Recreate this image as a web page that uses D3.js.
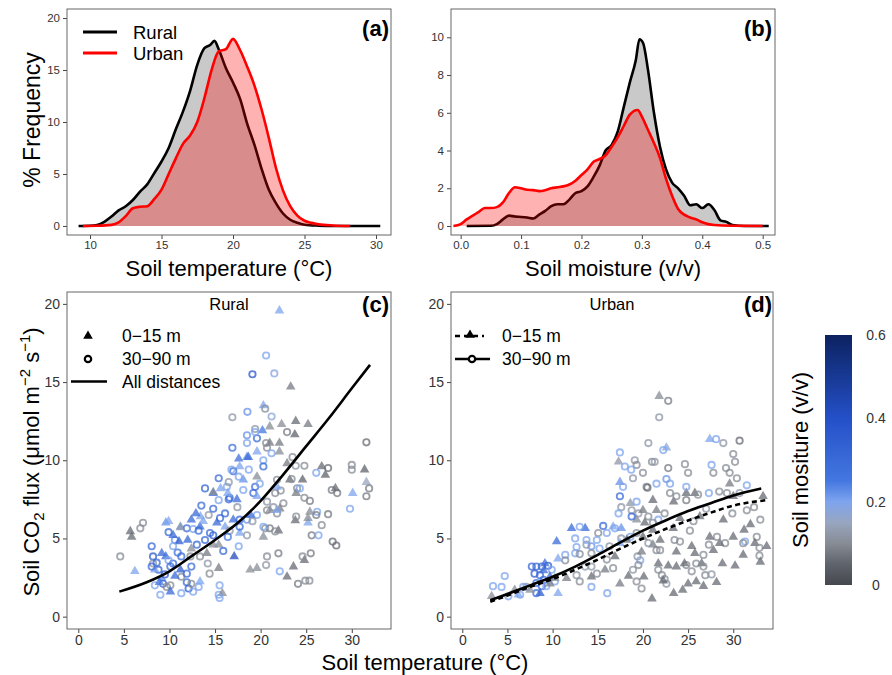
<!DOCTYPE html>
<html>
<head>
<meta charset="utf-8">
<script src="https://cdn.jsdelivr.net/npm/d3@7"></script>
<style>
  body { margin: 0; background: #fff; }
  text { font-family: "Liberation Sans", Arial, sans-serif; }
</style>
</head>
<body>
<svg id="fig" width="892" height="675"></svg>
<script>
// ---- data ----
// (a) density of soil temperature, % frequency
const ruralTempDensity = [[9.2,0],[10,0.02],[10.5,0.1],[11,0.4],[11.5,0.9],[12,1.5],[12.5,1.9],[13,2.5],[13.5,3.3],[14,4.0],[14.5,5.1],[15,6.2],[15.5,7.5],[16,9.3],[16.5,11.0],[17,13.0],[17.5,15.5],[18,17.1],[18.4,17.4],[18.7,17.8],[19,17.0],[19.5,15.2],[20,13.8],[20.5,12.2],[21,9.8],[21.5,7.8],[22,5.5],[22.5,3.5],[23,2.2],[23.5,1.2],[24,0.6],[24.5,0.3],[25,0.12],[26,0.03],[27,0],[30.3,0]];
const urbanTempDensity = [[9.5,0],[10.5,0.02],[11.5,0.1],[12,0.35],[12.5,0.95],[13,1.7],[13.5,1.85],[14,1.9],[14.5,2.6],[15,3.5],[15.5,5.0],[16,6.5],[16.5,7.9],[17,8.7],[17.5,10.0],[18,12.3],[18.5,15.0],[19,16.8],[19.5,17.0],[20,18.0],[20.5,16.9],[21,15.3],[21.5,13.5],[22,11.2],[22.5,8.5],[23,5.6],[23.5,3.4],[24,1.9],[24.5,1.0],[25,0.5],[25.5,0.3],[26,0.15],[27,0.05],[28.2,0]];
// (b) density of soil moisture
const ruralMoistDensity = [[0.01,0],[0.05,0.01],[0.06,0.1],[0.07,0.35],[0.08,0.55],[0.09,0.5],[0.1,0.48],[0.11,0.45],[0.12,0.4],[0.13,0.6],[0.14,0.8],[0.15,1.05],[0.16,1.15],[0.17,1.15],[0.18,1.4],[0.19,1.75],[0.2,1.85],[0.21,2.1],[0.22,2.6],[0.23,3.2],[0.24,4.0],[0.25,4.3],[0.26,5.0],[0.27,6.3],[0.28,7.6],[0.29,8.8],[0.296,9.9],[0.302,9.7],[0.31,8.3],[0.32,6.0],[0.33,4.2],[0.34,3.0],[0.35,2.3],[0.36,2.0],[0.37,1.6],[0.38,1.1],[0.39,1.15],[0.4,0.95],[0.41,1.15],[0.42,0.85],[0.43,0.3],[0.44,0.22],[0.45,0.05],[0.47,0],[0.51,0]];
const urbanMoistDensity = [[-0.012,0],[0,0.1],[0.01,0.35],[0.02,0.55],[0.03,0.75],[0.04,0.95],[0.05,0.95],[0.06,1.0],[0.07,1.25],[0.08,1.75],[0.09,2.05],[0.1,2.0],[0.11,1.92],[0.12,1.9],[0.13,1.85],[0.14,1.9],[0.15,2.0],[0.16,2.05],[0.17,2.1],[0.18,2.2],[0.19,2.4],[0.2,2.7],[0.21,3.0],[0.22,3.4],[0.23,3.55],[0.24,3.75],[0.25,4.2],[0.26,4.7],[0.27,5.3],[0.28,5.9],[0.293,6.15],[0.3,5.8],[0.31,5.1],[0.32,4.4],[0.33,3.6],[0.34,2.5],[0.35,1.6],[0.36,0.9],[0.37,0.6],[0.38,0.45],[0.39,0.35],[0.4,0.2],[0.41,0.1],[0.42,0.05],[0.45,0.01],[0.5,0]];

// (c),(d) flux points: [distance class, soil temp, CO2 flux, soil moisture]
// n = 0-15 m (triangle), f = 30-90 m (circle)
const ruralPoints = [
["n",22.06,19.57,0.2],["f",20.6,16.7,0.2],["f",21.5,15.55,0.18],["f",19.1,15.5,0.38],["n",23.3,14.7,0.08],
["f",16.9,12.75,0.12],["f",18.55,13.1,0.22],["n",20.3,13.5,0.2],["f",20.5,13.3,0.1],["f",21.2,12.8,0.18],
["n",22.3,12.3,0.1],["n",23.85,12.5,0.06],["n",25.2,12.3,0.08],["f",22.9,11.8,0.08],["n",23.75,11.65,0.05],
["n",21.0,12.15,0.1],["f",19.4,12.0,0.12],["f",18.5,11.6,0.22],["n",20.2,11.9,0.25],["f",19.6,11.4,0.3],
["f",18.5,11.1,0.2],["f",16.9,10.8,0.28],["f",20.6,11.1,0.1],["n",21.0,11.1,0.08],["n",22.06,11.1,0.08],
["f",20.7,10.8,0.1],["f",21.2,10.45,0.2],["n",22.06,10.55,0.1],["f",23.5,10.2,0.1],["n",18.5,10.2,0.22],
["n",17.6,10.1,0.28],["f",20.3,10.0,0.2],["f",20.3,9.6,0.3],["n",22.9,9.8,0.08],["f",23.85,9.65,0.12],
["n",17.7,9.6,0.2],["f",18.7,9.4,0.2],["f",17.0,9.3,0.3],["f",24.8,9.65,0.1],["f",26.1,9.2,0.2],
["n",26.7,9.6,0.06],["f",27.4,9.5,0.06],["n",27.1,9.06,0.05],["f",30.0,9.7,0.1],["f",30.0,9.4,0.1],
["n",31.4,9.4,0.05],["f",31.6,11.15,0.06],["n",31.6,8.6,0.15],["f",31.9,8.2,0.08],["f",31.6,7.7,0.08],
["n",30.1,7.9,0.2],["f",29.8,6.9,0.2],["f",27.8,8.1,0.08],["f",28.4,7.9,0.08],["n",28.2,8.2,0.06],
["f",27.4,6.55,0.08],["f",26.7,5.85,0.1],["f",26.2,6.7,0.2],["f",26.1,6.5,0.08],["n",25.4,6.7,0.1],
["f",25.4,7.4,0.08],["n",25.2,6.0,0.2],["n",25.2,6.3,0.1],["f",25.6,5.2,0.08],["f",26.35,5.2,0.2],
["f",24.8,7.6,0.1],["f",24.0,8.2,0.1],["n",23.2,8.75,0.06],["f",23.4,8.8,0.1],["n",23.9,7.9,0.08],
["f",24.3,8.2,0.2],["n",24.6,8.75,0.05],["n",23.8,6.15,0.06],["f",23.9,6.4,0.1],["f",22.2,8.06,0.1],
["f",21.6,7.9,0.1],["n",21.8,8.3,0.2],["f",22.5,7.25,0.1],["n",22.1,6.9,0.08],["f",21.8,6.6,0.1],
["n",21.0,6.8,0.1],["f",20.7,6.8,0.1],["f",20.7,7.35,0.12],["f",20.5,5.65,0.1],["f",21.0,5.65,0.08],
["n",21.95,5.5,0.06],["f",21.6,5.45,0.1],["n",20.3,5.1,0.1],["f",20.3,5.75,0.2],["f",19.6,6.5,0.2],
["f",20.7,3.85,0.1],["f",21.95,4.05,0.08],["f",20.6,3.3,0.12],["n",18.85,3.0,0.1],["n",19.6,3.1,0.1],
["f",22.1,2.9,0.2],["n",23.6,3.2,0.06],["n",22.9,2.55,0.06],["f",24.1,2.1,0.08],["f",24.9,2.3,0.1],
["f",25.35,2.3,0.1],["n",24.8,3.6,0.06],["f",24.6,3.85,0.1],["f",25.5,4.05,0.08],["f",27.9,4.8,0.06],
["f",28.3,4.55,0.06],["n",17.1,3.85,0.42],["f",17.6,4.5,0.2],["n",17.7,5.35,0.2],["f",17.7,5.75,0.3],
["f",18.5,5.2,0.12],["n",17.0,6.2,0.3],["f",17.7,6.2,0.3],["f",18.5,6.2,0.22],["f",19.1,6.1,0.12],
["f",16.6,7.6,0.3],["f",16.5,7.5,0.3],["n",17.4,7.5,0.3],["f",18.1,8.1,0.2],["f",19.2,7.9,0.3],
["n",19.6,7.7,0.2],["f",17.45,7.0,0.12],["f",15.4,8.85,0.3],["f",16.3,8.3,0.2],["n",15.6,8.2,0.2],
["f",13.9,8.2,0.32],["n",14.8,7.9,0.3],["f",13.5,7.1,0.3],["f",14.3,6.5,0.12],["n",13.4,6.4,0.2],
["f",14.8,6.9,0.3],["n",12.4,6.2,0.3],["n",11.2,5.75,0.2],["f",11.9,5.65,0.3],["f",12.6,5.6,0.2],
["f",13.2,5.5,0.28],["f",9.9,5.4,0.3],["n",9.6,6.0,0.22],["f",10.6,4.9,0.22],["n",11.05,4.8,0.35],
["f",10.4,4.5,0.2],["f",14.8,5.2,0.35],["f",14.45,5.35,0.3],["f",13.9,4.9,0.3],["n",15.4,4.6,0.1],
["n",14.8,4.6,0.1],["f",14.2,3.4,0.12],["f",14.4,2.75,0.1],["n",15.4,3.1,0.08],["f",15.5,2.0,0.2],
["f",15.4,1.4,0.2],["n",15.8,1.5,0.1],["f",15.5,1.2,0.2],["n",14.1,4.05,0.08],["f",13.35,3.85,0.1],
["n",12.4,4.35,0.1],["f",12.3,3.85,0.1],["f",11.3,3.85,0.3],["f",10.4,3.4,0.3],["n",9.6,3.85,0.3],
["f",8.2,3.85,0.35],["f",8.2,3.4,0.12],["f",8.6,3.45,0.3],["f",8.8,3.0,0.35],["n",8.4,3.0,0.2],
["f",8.05,3.2,0.3],["n",9.15,4.05,0.3],["f",9.9,3.6,0.2],["f",10.1,3.2,0.3],["n",9.15,2.45,0.22],
["f",8.4,2.0,0.2],["f",9.3,2.1,0.3],["f",9.7,1.9,0.1],["f",10.1,2.0,0.1],["f",9.0,1.4,0.2],
["n",10.1,1.6,0.3],["f",11.3,1.5,0.2],["f",11.9,2.2,0.3],["f",11.3,2.55,0.1],["f",11.9,2.75,0.3],
["n",11.2,3.0,0.35],["f",12.4,3.2,0.3],["f",12.1,1.8,0.35],["f",12.6,1.6,0.2],["f",12.4,2.1,0.1],
["n",13.35,2.25,0.2],["f",13.2,1.9,0.2],["n",6.2,2.9,0.2],["f",4.6,3.85,0.1],["n",5.85,5.1,0.06],
["n",5.7,5.45,0.06],["f",6.8,5.65,0.1],["f",7.1,6.0,0.1],["f",8.05,4.5,0.3],["n",9.9,6.1,0.2],
["n",11.2,5.7,0.12],["n",10.4,5.2,0.3],["n",13.35,5.75,0.3],["n",13.7,6.1,0.2],["f",15.4,7.45,0.2],
["n",14.8,7.95,0.1],["n",16.4,7.9,0.2],["f",16.5,8.6,0.12],["f",16.8,9.4,0.2],["n",18.1,8.75,0.22],
["n",18.65,10.2,0.3],["n",19.6,10.55,0.2],["f",19.4,11.8,0.2],["f",17.6,8.95,0.2],["n",19.6,8.95,0.1],
["f",19.4,8.3,0.3],["f",19.9,8.5,0.2],["f",21.8,8.75,0.1],["f",21.4,7.0,0.12],["n",21.8,6.8,0.2],
["n",15.2,6.0,0.3],["f",15.55,6.3,0.3],["n",16.1,5.75,0.2],["f",16.6,5.5,0.12],["f",16.1,6.6,0.3],
["n",12.9,6.6,0.3],["f",13.0,4.6,0.3],["n",12.0,4.9,0.32],["f",10.9,4.1,0.28],["n",10.6,2.6,0.3],
["f",9.5,2.7,0.35],["n",8.9,2.2,0.25],["f",15.9,4.2,0.3],["f",16.4,5.1,0.25],["n",18.9,6.5,0.3]
];
const urbanPoints = [
["n",21.8,14.1,0.1],["f",22.8,13.8,0.08],["f",21.8,12.75,0.12],["f",20.6,11.1,0.12],["n",22.6,10.8,0.18],
["f",22.25,10.65,0.2],["f",17.45,10.5,0.2],["n",17.3,9.9,0.12],["f",18.0,9.6,0.2],["f",19.1,10.0,0.12],
["f",19.3,9.7,0.1],["f",21.0,9.9,0.1],["f",21.3,9.9,0.12],["f",18.7,9.4,0.2],["f",20.0,9.2,0.1],
["f",18.9,8.85,0.12],["f",20.4,8.3,0.1],["f",20.5,8.25,0.06],["f",21.5,8.5,0.2],["f",22.6,8.8,0.22],
["f",22.8,9.5,0.08],["f",23.0,8.5,0.2],["f",23.0,7.9,0.1],["f",17.45,7.7,0.3],["n",17.45,8.6,0.22],
["f",17.8,8.3,0.2],["f",17.6,7.0,0.12],["f",17.3,6.6,0.2],["n",18.6,7.25,0.12],["f",18.75,6.8,0.12],
["f",19.3,7.35,0.2],["n",19.3,6.2,0.1],["f",19.5,6.6,0.12],["n",21.1,7.45,0.06],["n",20.0,6.8,0.08],
["f",20.6,6.4,0.1],["n",21.5,6.8,0.08],["f",21.7,6.2,0.2],["f",22.4,6.6,0.1],["n",23.4,7.35,0.06],
["f",23.7,7.7,0.1],["n",24.8,7.9,0.06],["f",24.65,9.75,0.1],["f",25.0,9.2,0.1],["f",24.8,8.3,0.2],
["f",24.8,7.45,0.08],["n",25.75,7.9,0.06],["f",26.1,7.8,0.1],["f",27.3,7.9,0.2],["f",27.6,9.7,0.2],
["f",27.8,9.2,0.1],["n",27.4,11.35,0.2],["f",28.1,11.35,0.2],["f",28.9,11.1,0.12],["f",30.7,11.25,0.06],
["f",30.0,10.4,0.1],["f",30.2,9.9,0.1],["f",29.2,9.5,0.1],["f",29.6,9.2,0.1],["f",30.4,8.85,0.1],
["n",29.6,8.5,0.08],["f",31.5,8.4,0.2],["f",28.45,8.0,0.1],["f",29.3,7.9,0.1],["n",30.0,7.7,0.06],
["f",30.7,7.9,0.12],["f",31.5,6.8,0.1],["f",33.0,6.2,0.1],["n",33.3,7.7,0.06],["f",32.6,5.1,0.1],
["n",32.4,4.7,0.06],["f",32.9,4.4,0.1],["n",33.7,4.5,0.06],["f",32.9,3.9,0.1],["n",33.0,3.5,0.06],
["f",31.3,4.8,0.2],["f",31.1,4.7,0.1],["n",31.2,5.55,0.06],["n",31.1,3.95,0.06],["n",30.2,3.25,0.06],
["n",30.0,5.1,0.06],["f",29.1,4.7,0.1],["n",28.5,4.7,0.06],["f",28.2,5.1,0.1],["n",27.4,5.1,0.06],
["n",27.8,4.25,0.06],["f",27.3,4.6,0.1],["f",26.7,3.95,0.1],["n",26.5,3.4,0.06],["f",26.7,3.2,0.1],
["f",26.9,2.65,0.1],["f",27.6,2.7,0.12],["n",28.15,2.2,0.06],["n",26.7,1.95,0.06],["n",25.9,2.25,0.06],
["f",25.4,2.9,0.1],["n",25.0,2.1,0.06],["f",24.8,3.3,0.1],["n",24.6,3.4,0.06],["f",25.9,3.4,0.1],
["n",25.75,4.05,0.06],["n",25.4,4.5,0.06],["n",23.7,4.15,0.06],["f",24.1,4.8,0.1],["f",23.5,4.9,0.1],
["n",23.35,5.65,0.06],["n",21.9,4.9,0.06],["f",21.9,4.25,0.1],["f",21.5,4.25,0.1],["n",21.1,4.6,0.08],
["f",20.6,4.7,0.12],["n",21.7,3.4,0.06],["f",21.7,3.0,0.1],["n",22.8,3.25,0.06],["n",23.7,3.2,0.06],
["f",22.1,2.65,0.1],["f",22.4,2.4,0.1],["f",22.6,2.1,0.12],["n",22.25,2.3,0.06],["n",23.4,1.5,0.06],
["n",24.4,1.7,0.06],["n",21.0,1.15,0.06],["f",19.85,1.8,0.1],["f",19.3,2.25,0.1],["n",20.1,2.55,0.06],
["f",18.9,3.0,0.12],["n",18.4,2.6,0.06],["n",17.45,2.1,0.08],["f",19.7,3.6,0.2],["f",19.4,3.85,0.12],
["f",19.5,3.3,0.1],["n",19.85,4.15,0.08],["n",20.0,5.1,0.06],["f",19.3,5.35,0.1],["f",18.6,5.1,0.2],
["n",18.2,4.9,0.06],["f",17.6,5.0,0.12],["n",16.9,3.85,0.06],["f",16.7,3.1,0.1],["f",16.0,3.65,0.1],
["n",15.8,3.0,0.08],["f",16.3,4.5,0.12],["f",16.9,5.65,0.2],["n",16.7,5.75,0.2],["f",16.0,5.35,0.2],
["n",17.45,4.7,0.2],["f",15.6,5.8,0.3],["f",15.05,5.35,0.1],["f",14.9,4.9,0.2],["f",14.3,4.5,0.22],
["f",14.3,4.05,0.1],["f",13.75,4.6,0.12],["f",15.2,4.35,0.2],["f",14.9,2.75,0.1],["f",14.3,3.2,0.12],
["n",14.3,2.55,0.06],["f",14.3,1.9,0.2],["f",13.0,2.25,0.1],["f",12.65,2.65,0.12],["n",11.55,2.45,0.08],
["f",16.05,1.5,0.2],["n",12.1,5.65,0.3],["n",10.45,4.8,0.3],["n",13.6,5.65,0.3],["f",13.0,5.75,0.2],
["f",12.5,5.0,0.2],["f",12.65,4.45,0.2],["f",13.75,4.9,0.2],["f",11.4,3.95,0.2],["f",11.4,3.6,0.1],
["n",10.6,3.7,0.2],["f",12.5,4.05,0.2],["f",13.0,4.0,0.1],["f",13.6,3.2,0.12],["f",7.7,3.2,0.3],
["f",8.2,3.2,0.3],["f",8.8,3.2,0.3],["f",9.5,3.25,0.35],["n",9.15,3.4,0.3],["f",8.0,2.75,0.35],
["f",8.6,2.65,0.3],["n",9.0,2.95,0.3],["f",9.9,3.0,0.2],["n",9.7,2.55,0.3],["f",9.0,2.35,0.3],
["f",8.2,2.15,0.3],["f",8.8,1.95,0.3],["n",8.6,1.5,0.35],["f",8.2,1.5,0.3],["f",9.3,1.95,0.2],
["n",10.6,1.5,0.2],["f",10.25,2.25,0.2],["n",9.7,2.1,0.08],["n",10.25,2.45,0.1],["f",4.7,2.6,0.2],
["f",3.4,1.95,0.2],["f",4.35,1.9,0.2],["f",5.1,1.3,0.2],["n",3.25,1.3,0.1],["f",6.4,1.4,0.2],
["n",6.2,1.4,0.2],["n",7.5,1.7,0.1],["f",7.1,1.9,0.12],["n",5.8,1.7,0.1],["f",6.75,1.9,0.2],
["f",18.75,6.4,0.3],["n",17.6,5.65,0.22],["n",21.1,5.55,0.06],["n",20.2,6.0,0.06],["f",21.1,6.0,0.1],
["f",25.6,6.1,0.1],["n",26.3,6.4,0.06],["f",27.0,6.9,0.12],["n",28.9,6.2,0.06],["f",29.9,6.6,0.1],
["n",31.9,5.9,0.06],["f",32.3,7.0,0.1],["n",24.1,6.3,0.06],["f",25.2,5.5,0.1],["n",28.8,3.4,0.06]
];

// fitted curves [soil temp, flux]
const ruralFitAll = [[4.5,1.6],[7.5,2.2],[10,2.9],[12.5,3.9],[15,4.9],[17.5,6.0],[20,7.4],[22.5,9.1],[25,10.9],[27.5,12.7],[30,14.6],[32,16.1]];
const urbanFitFar = [[3.1,1.05],[5,1.45],[7.5,2.0],[10,2.55],[12.5,3.2],[15,3.95],[17.5,4.75],[20,5.5],[22.5,6.15],[25,6.75],[27.5,7.25],[30,7.75],[33.1,8.2]];
const urbanFitNear = [[3.1,0.95],[5,1.35],[7.5,1.9],[10,2.4],[12.5,3.0],[15,3.65],[17.5,4.35],[20,5.0],[22.5,5.6],[25,6.15],[27.5,6.65],[30,7.1],[33.7,7.45]];

const tempTicksTop = [10, 15, 20, 25, 30];
const freqTicksTop = [0, 5, 10, 15, 20];
const moistTicks = [0, 0.1, 0.2, 0.3, 0.4, 0.5];
const moistFreqTicks = [0, 2, 4, 6, 8, 10];
const tempTicks = [0, 5, 10, 15, 20, 25, 30];
const fluxTicks = [0, 5, 10, 15, 20];
const barTicks = [0, 0.2, 0.4, 0.6];
const moistStops = [0, 0.05, 0.1, 0.15, 0.2, 0.25, 0.4, 0.6];
const moistColors = ["#45484e", "#5f636b", "#878c95", "#98a6c0", "#7ea4ee", "#4477e0", "#2450c8", "#0c2260"];

// ---- layout ----
const svg = d3.select("#fig");
const FONT = "'Liberation Sans', Arial, sans-serif";
const boxes = {
  a: { x0: 67, x1: 391, y0: 9, y1: 235 },
  b: { x0: 451, x1: 775, y0: 9, y1: 235 },
  c: { x0: 67, x1: 391, y0: 292, y1: 629 },
  d: { x0: 451, x1: 773, y0: 292, y1: 629 }
};

const color = d3.scaleLinear().domain(moistStops).range(moistColors);

function scales(box, xDom, yDom) {
  return {
    x: d3.scaleLinear().domain(xDom).range([box.x0, box.x1]),
    y: d3.scaleLinear().domain(yDom).range([box.y1, box.y0])
  };
}

const sa = scales(boxes.a, [8.39, 31.05], [-0.87, 20.87]);
const sb = scales(boxes.b, [-0.016, 0.5204], [-0.477, 11.5]);
const sc = scales(boxes.c, [-1.24, 34.3], [-0.79, 20.76]);
const sd = scales(boxes.d, [-1.25, 34.4], [-0.79, 20.76]);

function axes(s, box, xTicks, yTicks, fs, xFmt, yFmt) {
  const gx = svg.append("g")
    .attr("transform", `translate(0,${box.y1})`)
    .call(d3.axisBottom(s.x).tickValues(xTicks).tickSize(4).tickPadding(2).tickFormat(xFmt || d3.format("d")));
  const gy = svg.append("g")
    .attr("transform", `translate(${box.x0},0)`)
    .call(d3.axisLeft(s.y).tickValues(yTicks).tickSize(4).tickPadding(3).tickFormat(yFmt || d3.format("d")));
  [gx, gy].forEach((g) => {
    g.select(".domain").remove();
    g.selectAll("line").attr("stroke", "#444");
    g.selectAll("text").attr("font-size", fs).attr("fill", "#333").attr("font-family", FONT);
  });
}

function frame(box) {
  svg.append("rect")
    .attr("x", box.x0).attr("y", box.y0)
    .attr("width", box.x1 - box.x0).attr("height", box.y1 - box.y0)
    .attr("fill", "none").attr("stroke", "#666").attr("stroke-width", 1);
}

function label(x, y, txt, size, opts = {}) {
  return svg.append("text")
    .attr("x", x).attr("y", y)
    .attr("font-size", size)
    .attr("font-family", FONT)
    .attr("font-weight", opts.bold ? "bold" : null)
    .attr("text-anchor", opts.anchor || "start")
    .attr("fill", "#000")
    .text(txt);
}

// ---- density panels ----
function densityPanel(s, box, rural, urban) {
  const area = d3.area().x((d) => s.x(d[0])).y0(s.y(0)).y1((d) => s.y(d[1])).curve(d3.curveMonotoneX);
  const line = d3.line().x((d) => s.x(d[0])).y((d) => s.y(d[1])).curve(d3.curveMonotoneX);
  svg.append("path").datum(rural).attr("d", area).attr("fill", "#c9c9c9");
  svg.append("path").datum(rural).attr("d", line).attr("fill", "none").attr("stroke", "#000").attr("stroke-width", 2.6);
  svg.append("path").datum(urban).attr("d", area).attr("fill", "#ff0000").attr("fill-opacity", 0.3);
  svg.append("path").datum(urban).attr("d", line).attr("fill", "none").attr("stroke", "#ff0000").attr("stroke-width", 2.6);
}

densityPanel(sa, boxes.a, ruralTempDensity, urbanTempDensity);
axes(sa, boxes.a, tempTicksTop, freqTicksTop, 11.5);
frame(boxes.a);

densityPanel(sb, boxes.b, ruralMoistDensity, urbanMoistDensity);
axes(sb, boxes.b, moistTicks, moistFreqTicks, 11.5, d3.format(".1f"));
frame(boxes.b);

// legend (a)
[["Rural", "#000", 32], ["Urban", "#ff0000", 53]].forEach(([name, c, y]) => {
  svg.append("line").attr("x1", 83).attr("x2", 117).attr("y1", y).attr("y2", y)
    .attr("stroke", c).attr("stroke-width", 2.8);
  label(133, y + 6.5, name, 18.5);
});
label(389, 36, "(a)", 22, { bold: true, anchor: "end" });
label(772, 36, "(b)", 22, { bold: true, anchor: "end" });

// ---- scatter panels ----
const triangle = d3.symbol().type(d3.symbolTriangle).size(40);

function scatter(s, pts) {
  const g = svg.append("g");
  pts.forEach((p) => {
    const [cls, t, f, m] = p;
    const c = color(m);
    if (cls === "n") {
      g.append("path").attr("d", triangle)
        .attr("transform", `translate(${s.x(t)},${s.y(f)})`)
        .attr("fill", c).attr("fill-opacity", 0.75);
    } else {
      g.append("circle").attr("cx", s.x(t)).attr("cy", s.y(f)).attr("r", 3.2)
        .attr("fill", "none").attr("stroke", c).attr("stroke-width", 1.8).attr("stroke-opacity", 0.75);
    }
  });
}

function fitLine(s, pts, dash) {
  const line = d3.line().x((d) => s.x(d[0])).y((d) => s.y(d[1])).curve(d3.curveMonotoneX);
  svg.append("path").datum(pts).attr("d", line)
    .attr("fill", "none").attr("stroke", "#000").attr("stroke-width", 2.6)
    .attr("stroke-dasharray", dash || null);
}

scatter(sc, ruralPoints);
fitLine(sc, ruralFitAll);
axes(sc, boxes.c, tempTicks, fluxTicks, 14);
frame(boxes.c);

scatter(sd, urbanPoints);
fitLine(sd, urbanFitFar);
fitLine(sd, urbanFitNear, "5,3.5");
axes(sd, boxes.d, tempTicks, fluxTicks, 14);
frame(boxes.d);

label(229, 310, "Rural", 16.5, { anchor: "middle" });
label(612, 310, "Urban", 16.5, { anchor: "middle" });
label(389, 312, "(c)", 22, { bold: true, anchor: "end" });
label(772, 312, "(d)", 22, { bold: true, anchor: "end" });

// legend (c)
svg.append("path").attr("d", triangle).attr("transform", "translate(88,336)").attr("fill", "#000");
svg.append("circle").attr("cx", 88).attr("cy", 359).attr("r", 3.2).attr("fill", "none").attr("stroke", "#000").attr("stroke-width", 2.2);
svg.append("line").attr("x1", 71).attr("x2", 107).attr("y1", 381.5).attr("y2", 381.5).attr("stroke", "#000").attr("stroke-width", 2.6);
label(122, 342, "0\u221215 m", 17.5);
label(122, 365, "30\u221290 m", 17.5);
label(122, 388, "All distances", 17.5);

// legend (d)
svg.append("line").attr("x1", 455).attr("x2", 484).attr("y1", 336).attr("y2", 336)
  .attr("stroke", "#000").attr("stroke-width", 2.6).attr("stroke-dasharray", "5,4");
svg.append("path").attr("d", triangle).attr("transform", "translate(470,335)").attr("fill", "#000");
svg.append("line").attr("x1", 455).attr("x2", 490).attr("y1", 359).attr("y2", 359)
  .attr("stroke", "#000").attr("stroke-width", 2.6);
svg.append("circle").attr("cx", 472).attr("cy", 359).attr("r", 3.2).attr("fill", "#fff").attr("stroke", "#000").attr("stroke-width", 2.2);
label(502, 342, "0\u221215 m", 17.5);
label(502, 365, "30\u221290 m", 17.5);

// ---- colour bar ----
const bar = { x: 825, y0: 335, y1: 585, w: 27 };
const grad = svg.append("defs").append("linearGradient")
  .attr("id", "moistGrad").attr("x1", 0).attr("x2", 0).attr("y1", 1).attr("y2", 0);
moistStops.forEach((v, i) => {
  grad.append("stop").attr("offset", v / 0.6).attr("stop-color", moistColors[i]);
});
const barScale = d3.scaleLinear().domain([0, 0.6]).range([bar.y1, bar.y0]);
svg.append("rect").attr("x", bar.x).attr("y", bar.y0).attr("width", bar.w)
  .attr("height", bar.y1 - bar.y0).attr("fill", "url(#moistGrad)");
barTicks.forEach((v) => {
  label(876, barScale(v) + 5, v === 0 ? "0" : d3.format(".1f")(v), 14, { anchor: "middle" }).attr("fill", "#333");
});
svg.append("text")
  .attr("transform", "translate(808,460) rotate(-90)")
  .attr("text-anchor", "middle").attr("font-size", 22).attr("font-family", FONT)
  .text("Soil mositure (v/v)");

// ---- axis titles ----
label(229, 276, "Soil temperature (\u00b0C)", 22, { anchor: "middle" });
label(613, 276, "Soil moisture (v/v)", 22, { anchor: "middle" });
label(425, 670, "Soil temperature (\u00b0C)", 22, { anchor: "middle" });

svg.append("text")
  .attr("transform", "translate(40,120) rotate(-90)")
  .attr("text-anchor", "middle").attr("font-size", 23).attr("font-family", FONT)
  .text("% Frequency");

const yl = svg.append("text")
  .attr("transform", "translate(39,462) rotate(-90)")
  .attr("text-anchor", "middle").attr("font-size", 22).attr("font-family", FONT);
yl.append("tspan").text("Soil CO");
yl.append("tspan").attr("font-size", 15).attr("dy", 5).text("2");
yl.append("tspan").attr("dy", -5).text(" flux (\u03bcmol m");
yl.append("tspan").attr("font-size", 15).attr("dy", -9).text("\u22122");
yl.append("tspan").attr("dy", 9).text(" s");
yl.append("tspan").attr("font-size", 15).attr("dy", -9).text("\u22121");
yl.append("tspan").attr("dy", 9).text(")");
</script>
</body>
</html>
